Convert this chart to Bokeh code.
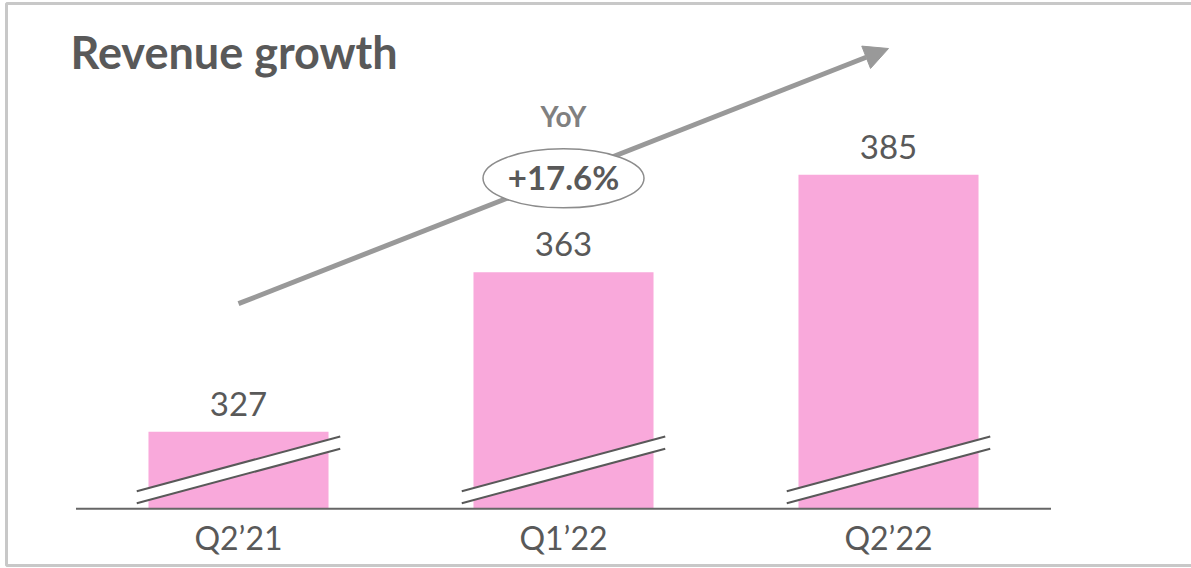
from bokeh.plotting import figure
from bokeh.models import Range1d, Arrow, NormalHead, ColumnDataSource
from bokeh.core.properties import value
from bokeh.embed import file_html
from bokeh.resources import INLINE

# ---- data ----
categories = ["Q2\u201921", "Q1\u201922", "Q2\u201922"]
revenue = [327, 363, 385]
value_labels = ["327", "363", "385"]
title_text = "Revenue growth"
yoy_label = "YoY"
yoy_value = "+17.6%"

axis_base = 309.6          # value at the (broken) baseline
FONT = "Lato"
TXT = "#595959"
PINK = "#F9A9DB"

xs = list(range(len(categories)))

p = figure(width=1191, height=568, output_backend="svg", toolbar_location=None,
           x_range=Range1d(-0.7323, 2.9323), y_range=Range1d(296.12, 424.34),
           min_border=0, min_border_left=0, min_border_right=0,
           min_border_top=0, min_border_bottom=0)
p.axis.visible = False
p.grid.visible = False
p.background_fill_color = "white"
p.border_fill_color = "white"
p.outline_line_color = None

src = ColumnDataSource(dict(x=xs, top=revenue, lab=value_labels, cat=categories,
                            base=[axis_base] * len(xs)))

# frame (left, top, bottom edges)
fl, ft, fb, fr = -0.7138, 423.66, 296.8, 3.0
p.line(x=[fr, fl, fl, fr], y=[ft, ft, fb, fb], line_color="#c8c8c8", line_width=3)

# bars
p.vbar(x="x", top="top", bottom="base", width=0.554, source=src,
       fill_color=PINK, line_color=None)

# axis break marks
hw = 0.313
brk_xs, brk_ys = [], []
lo_l, lo_r, up_l, up_r = axis_base + 1.26, axis_base + 13.54, axis_base + 3.97, axis_base + 16.32
for i in xs:
    brk_xs.append([i - hw, i + hw, i + hw, i - hw])
    brk_ys.append([lo_l, lo_r, up_r, up_l])
p.patches(brk_xs, brk_ys, fill_color="white", line_color=None)
p.segment(x0=[i - hw for i in xs], y0=[lo_l] * 3, x1=[i + hw for i in xs], y1=[lo_r] * 3,
          line_color="#595959", line_width=2)
p.segment(x0=[i - hw for i in xs], y0=[up_l] * 3, x1=[i + hw for i in xs], y1=[up_r] * 3,
          line_color="#595959", line_width=2)

# baseline
p.segment(x0=[-0.5], y0=[axis_base], x1=[len(xs) - 0.5], y1=[axis_base],
          line_color="#666666", line_width=2)

# value labels
p.text(x="x", y="top", text="lab", source=src, text_align="center",
       text_baseline="alphabetic", y_offset=-28, text_color=TXT,
       text_font=value(FONT), text_font_size="33px")

# category labels
p.text(x="x", y="base", text="cat", source=src, text_align="center",
       text_baseline="alphabetic", y_offset=29, text_color=TXT,
       text_font=value(FONT), text_font_size="32px")

# growth arrow
arr = Arrow(end=NormalHead(size=24, fill_color="#999999", line_color="#999999"),
            x_start=0, y_start=355.9, x_end=2, y_end=413.5,
            line_color="#999999", line_width=5, level="underlay")
p.add_layout(arr)

# ellipse with YoY value
p.ellipse(x=[1], y=[384.2], width=161, height=59, width_units="screen",
          height_units="screen", fill_color="white", line_color="#8c8c8c",
          line_width=1.5)
p.text(x=[1], y=[381.9], text=[yoy_value], text_align="center",
       text_baseline="alphabetic", y_offset=-12, text_color=TXT, text_font=value(FONT),
       text_font_size="33px", text_font_style="bold")
p.text(x=[1], y=[395.9], text=[yoy_label], text_align="center",
       text_baseline="alphabetic", y_offset=-10, text_color="#808080", text_font=value(FONT),
       text_font_size="28px", text_font_style="bold")

# title
p.text(x=[-0.517], y=[408.8], text=[title_text], text_align="left",
       text_baseline="alphabetic", y_offset=-17, text_color=TXT, text_font=value(FONT),
       text_font_size="45px", text_font_style="bold")

open("out.html", "w").write(file_html(p, INLINE))
